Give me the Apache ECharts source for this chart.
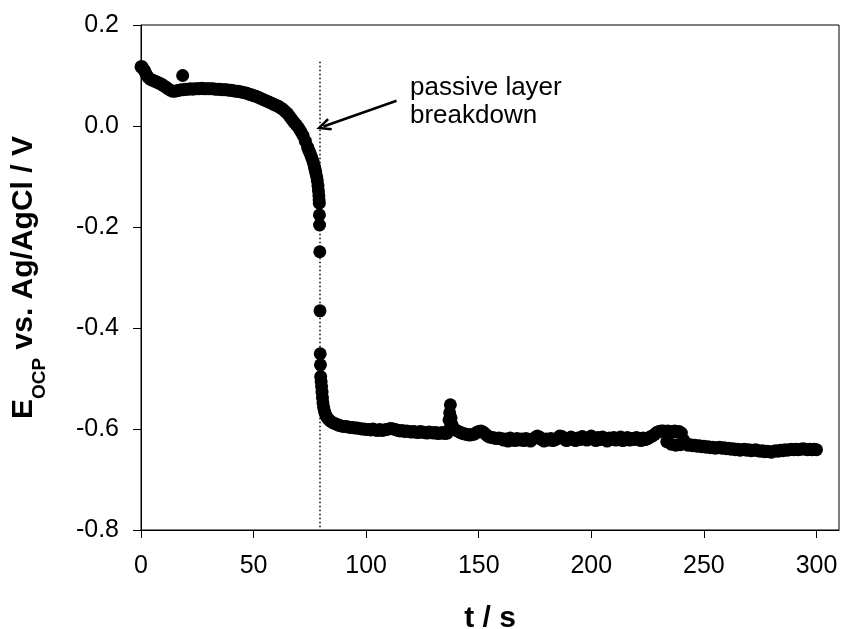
<!DOCTYPE html>
<html><head><meta charset="utf-8">
<script src="https://cdn.jsdelivr.net/npm/echarts@6/dist/echarts.min.js"></script>
<style>html,body{margin:0;padding:0;background:#fff;overflow:hidden}#c{width:841px;height:629px}</style>
</head><body><div id="c"></div>
<script>
// ---- data ----
const tEarly = [0,0.3,0.6,1,1.5,2,2.5,3,4,5,6,7,8,9,10,11,12,13,14,15,16,17,18,18.5,19,
  20,21,22,23,24,25,26,27,28,29,30,31,32,33,34,35,36,37,38,39,40,41,42,43,44,45,46,47,48,49,
  50,51,52,53,54,55,56,57,58,59];
const eEarly = [0.117,0.118,0.115,0.113,0.110,0.105,0.101,0.097,0.093,0.091,0.089,0.087,0.085,0.083,0.080,0.077,0.074,0.071,0.069,0.069,0.070,0.071,0.072,0.100,0.072,
  0.073,0.073,0.074,0.073,0.074,0.074,0.074,0.075,0.074,0.074,0.074,0.074,0.074,0.073,0.073,0.073,0.072,0.072,0.072,0.071,0.071,0.070,0.069,0.069,0.068,0.067,0.066,0.065,0.063,0.062,
  0.060,0.059,0.057,0.055,0.053,0.051,0.049,0.047,0.045,0.043];
const tDrop = [60,61,62,63,64,65,66,67,68,69,70,71,72,73,74,74.5,75,75.5,76,76.5,77,77.3,77.6,78,78.3,78.6,78.8,79.0,79.1,79.2,
  79.25,79.3,79.4,79.5,79.6,79.7,79.8,80.0,80.2,80.4,80.6,80.8,81.1,81.5,82.0,82.6,83.3,84,85,86,87];
const eDrop = [0.041,0.039,0.036,0.033,0.029,0.025,0.019,0.013,0.007,0.002,-0.004,-0.011,-0.019,-0.030,-0.042,-0.048,-0.053,-0.059,-0.065,-0.072,-0.080,-0.086,-0.092,-0.100,-0.108,-0.118,-0.128,-0.138,-0.146,-0.153,
  -0.176,-0.196,-0.249,-0.366,-0.451,-0.473,-0.496,-0.506,-0.516,-0.527,-0.538,-0.548,-0.557,-0.565,-0.572,-0.577,-0.581,-0.584,-0.587,-0.589,-0.591];
const tPlateau = [88,89,90,91,92,93,94,95,96,97,98,99,
  100,101,102,103,104,105,106,107,108,109,110,111,112,113,114,115,116,117,118,119,
  120,121,122,123,124,125,126,127,128,129,130,131,132,133,134,135,136,137,138,139,
  140,141,142,143,144,145,146,147,148,149,150,151,152,153,154,155,156,157,158,159,
  160,161,162,163,164,165,166,167,168,169,170,171,172,173,174,175,176,177,178,179,
  180,181,182,183,184,185,186,187,188,189,190,191,192,193,194,195,196,197,198,199,
  200,201,202,203,204,205,206,207,208,209,210,211,212,213,214,215,216,217,218,219,
  220,221,222,223,224,225,226,227,228,229,230,231,232,233,234,235,236,237,238,239,
  240,241,242,243,244,245,246,247,248,249,250,251,252,253,254,255,256,257,258,259,
  260,261,262,263,264,265,266,267,268,269,270,271,272,273,274,275,276,277,278,279,
  280,281,282,283,284,285,286,287,288,289,290,291,292,293,294,295,296,297,298,299,300];
const ePlateau = [-0.593,-0.594,-0.595,-0.595,-0.596,-0.597,-0.597,-0.598,-0.598,-0.599,-0.600,-0.600,
  -0.601,-0.601,-0.602,-0.600,-0.602,-0.603,-0.601,-0.603,-0.602,-0.601,
  -0.600,-0.599,-0.600,-0.601,-0.603,-0.604,-0.603,-0.605,-0.604,-0.605,
  -0.606,-0.605,-0.606,-0.607,-0.605,-0.606,-0.607,-0.608,-0.606,-0.607,
  -0.608,-0.607,-0.609,-0.608,-0.607,-0.609,-0.608,-0.600,-0.596,-0.600,
  -0.603,-0.605,-0.607,-0.609,-0.610,-0.611,-0.612,-0.611,-0.610,-0.607,
  -0.605,-0.604,-0.606,-0.610,-0.614,-0.616,-0.617,-0.618,-0.619,-0.618,
  -0.619,-0.622,-0.620,-0.624,-0.618,-0.621,-0.623,-0.619,-0.622,-0.620,
  -0.623,-0.619,-0.621,-0.624,-0.620,-0.617,-0.614,-0.616,-0.621,-0.624,
  -0.620,-0.622,-0.619,-0.623,-0.621,-0.618,-0.614,-0.615,-0.620,-0.623,
  -0.619,-0.616,-0.620,-0.623,-0.618,-0.621,-0.615,-0.619,-0.622,-0.617,
  -0.614,-0.619,-0.623,-0.617,-0.621,-0.616,-0.620,-0.624,-0.618,-0.621,
  -0.617,-0.622,-0.619,-0.616,-0.623,-0.620,-0.617,-0.622,-0.619,-0.621,
  -0.617,-0.620,-0.623,-0.618,-0.621,-0.619,-0.616,-0.614,-0.611,-0.607,
  -0.605,-0.604,-0.604,-0.605,-0.604,-0.606,-0.605,-0.604,-0.606,-0.605,
  -0.608,-0.622,-0.630,-0.632,-0.631,-0.633,-0.632,-0.634,-0.633,-0.635,
  -0.634,-0.636,-0.635,-0.637,-0.636,-0.638,-0.637,-0.636,-0.638,-0.637,
  -0.639,-0.638,-0.640,-0.639,-0.641,-0.640,-0.642,-0.641,-0.640,-0.642,
  -0.641,-0.643,-0.642,-0.641,-0.643,-0.644,-0.643,-0.645,-0.644,-0.645,
  -0.646,-0.644,-0.643,-0.644,-0.642,-0.643,-0.641,-0.642,-0.641,-0.640,
  -0.641,-0.640,-0.641,-0.640,-0.639,-0.640,-0.641,-0.640,-0.641,-0.640,-0.641];
const tExtra = [136.8,137.1,137.4,137.7,138.2,233.5,235.5,237.5,239.5,241];
const eExtra = [-0.582,-0.568,-0.552,-0.578,-0.592,-0.625,-0.630,-0.632,-0.631,-0.628];

const xTicks = [0,50,100,150,200,250,300];
const breakdownT = 79.4;
const breakdownLineTopE = 0.127;
const arrowFrom = [113.5, 0.05];
const arrowTo = [81, -0.001];
const annotationText = 'passive layer\nbreakdown';
const xTitle = 't / s';

// ---- build ----
const points = [];
[[tEarly,eEarly],[tDrop,eDrop],[tPlateau,ePlateau],[tExtra,eExtra]].forEach(([ts,es])=>{
  for (let i=0;i<ts.length;i++) points.push([ts[i], es[i]]);
});

const FONT = '"Liberation Sans", Arial, sans-serif';
const chart = echarts.init(document.getElementById('c'), null, {renderer:'canvas'});
chart.setOption({
  animation:false,
  backgroundColor:'#fff',
  grid:{left:141,right:2,top:25,bottom:99,containLabel:false,outerBoundsMode:'none',
    show:true,borderColor:'#000',borderWidth:1,backgroundColor:'transparent'},
  xAxis:{
    type:'value',min:0,max:310,interval:50,
    axisLine:{onZero:false,lineStyle:{color:'#000',width:1}},
    axisTick:{show:true,length:8,inside:false,lineStyle:{color:'#000',width:1},customValues:xTicks},
    axisLabel:{customValues:xTicks,margin:24,color:'#000',fontSize:25,fontFamily:FONT},
    splitLine:{show:false},
    name:xTitle,nameLocation:'middle',nameGap:74,
    nameTextStyle:{color:'#000',fontSize:30,fontWeight:'bold',fontFamily:FONT}
  },
  yAxis:{
    type:'value',min:-0.8,max:0.2,interval:0.2,
    axisLine:{onZero:false,lineStyle:{color:'#000',width:1}},
    axisTick:{show:true,length:8,inside:false,lineStyle:{color:'#000',width:1}},
    axisLabel:{margin:22,color:'#000',fontSize:25,fontFamily:FONT,
      formatter:v=>(Math.abs(v)<1e-9?0:v).toFixed(1)},
    splitLine:{show:false},
    name:'{e|E}{s|OCP}{e| vs. Ag/AgCl / V}',nameLocation:'middle',nameRotate:90,nameGap:92,
    nameTextStyle:{color:'#000',fontFamily:FONT,fontWeight:'bold',
      rich:{
        e:{fontSize:30,fontWeight:'bold',fontFamily:FONT,color:'#000',lineHeight:40,verticalAlign:'top'},
        s:{fontSize:19,fontWeight:'bold',fontFamily:FONT,color:'#000',lineHeight:19,verticalAlign:'bottom'}
      }}
  },
  graphic:[{
    type:'text',left:410,top:74,silent:true,
    style:{text:annotationText,fill:'#000',font:'26px '+FONT,lineHeight:28}
  }],
  series:[{
    type:'scatter',data:points,symbol:'circle',symbolSize:13,
    itemStyle:{color:'#000',opacity:1},silent:true,large:false,
    markLine:{
      silent:true,symbol:['none','none'],label:{show:false},
      lineStyle:{color:'#000',width:1.5,type:[1.5,2.5],opacity:1},
      data:[[{coord:[breakdownT,breakdownLineTopE]},{coord:[breakdownT,-0.8]}]]
    }
  },{
    type:'scatter',data:[],silent:true,
    markLine:{
      silent:true,symbol:['none','path://M5,0 L10,11 L8.3,12 L5,4.6 L1.7,12 L0,11 Z'],symbolSize:[13,15],
      label:{show:false},
      lineStyle:{color:'#000',width:2.5,type:'solid',opacity:1},
      data:[[{coord:arrowFrom},{coord:arrowTo}]]
    }
  }]
});
</script></body></html>
